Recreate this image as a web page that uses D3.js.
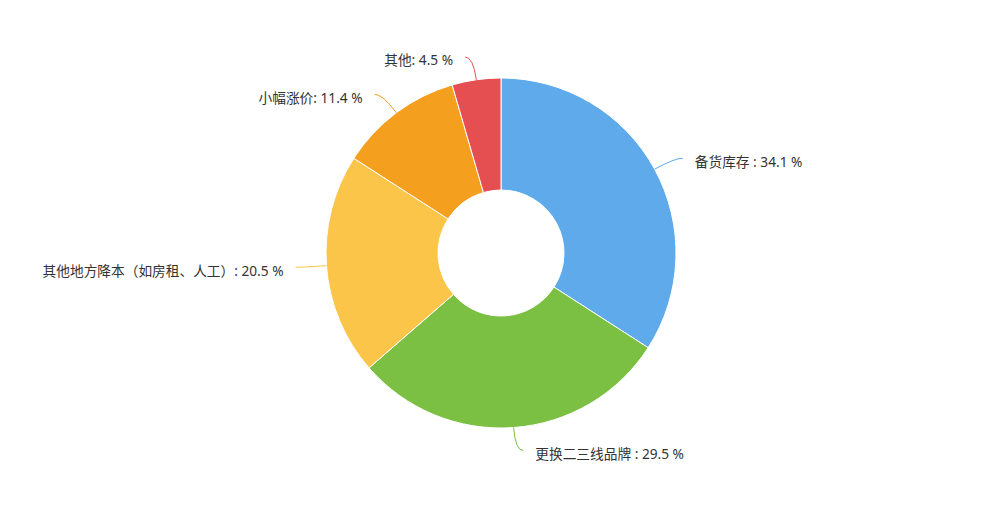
<!DOCTYPE html>
<html>
<head>
<meta charset="utf-8">
<script src="https://cdn.jsdelivr.net/npm/d3@7/dist/d3.min.js"></script>
<style>
    html, body { margin: 0; padding: 0; background: #fff; }
    .label { font-family: "Noto Sans", "Noto Sans CJK SC", sans-serif; font-size: 13.7px; fill: #333; }
</style>
</head>
<body>
<div class="container"></div>
<script>
(function () {

    //chart data
    var categories = ["备货库存", "更换二三线品牌", "其他地方降本（如房租、人工）", "小幅涨价", "其他"];
    var values = [34.1, 29.5, 20.5, 11.4, 4.5];
    var separators = [" : ", " : ", ": ", ": ", ": "];
    var colors = ["#5eaaea", "#7bc043", "#fbc54a", "#f59f1f", "#e64f51"];

    //frame
    var width = 995,
        height = 510,
        cx = 501,
        cy = 253,
        outerR = 175,
        innerR = 63;

    var svg = d3.select(".container")
        .append("svg")
        .attr("width", width)
        .attr("height", height);

    var g = svg.append("g")
        .attr("transform", "translate(" + cx + "," + cy + ")");

    var items = categories.map(function (c, i) {
        return { name: c, value: values[i], sep: separators[i], color: colors[i] };
    });

    var pie = d3.pie()
        .sort(null)
        .value(function (d) { return d.value; });

    var arc = d3.arc()
        .innerRadius(innerR)
        .outerRadius(outerR);

    var slices = pie(items);

    //draw slices
    g.selectAll(".slice")
        .data(slices)
        .enter()
        .append("path")
        .attr("class", "slice")
        .attr("d", arc)
        .style("fill", function (d) { return d.data.color; })
        .style("stroke", "#fff")
        .style("stroke-width", 1);

    //leader lines, radial segment then short horizontal one, smoothed
    var len1 = 23, len2 = 8, gap = 12;

    function linePoints(d) {
        var a = (d.startAngle + d.endAngle) / 2;
        var sx = Math.sin(a), sy = -Math.cos(a);
        var p0 = [outerR * sx, outerR * sy];
        var p1 = [(outerR + len1) * sx, (outerR + len1) * sy];
        var dir = sx >= 0 ? 1 : -1;
        var p2 = [p1[0] + dir * len2, p1[1]];
        return { p0: p0, p1: p1, p2: p2, dir: dir };
    }

    g.selectAll(".labelLine")
        .data(slices)
        .enter()
        .append("path")
        .attr("class", "labelLine")
        .attr("d", function (d) {
            var p = linePoints(d);
            return "M" + p.p0 + "Q" + p.p1 + " " + p.p2;
        })
        .style("fill", "none")
        .style("stroke", function (d) { return d.data.color; })
        .style("stroke-width", 1);

    g.selectAll(".label")
        .data(slices)
        .enter()
        .append("text")
        .attr("class", "label")
        .attr("x", function (d) {
            var p = linePoints(d);
            return p.p2[0] + p.dir * gap;
        })
        .attr("y", function (d) { return linePoints(d).p2[1] + 3; })
        .attr("dominant-baseline", "central")
        .attr("text-anchor", function (d) { return linePoints(d).dir > 0 ? "start" : "end"; })
        .text(function (d) { return d.data.name + d.data.sep + d.data.value + " %"; });

})();
</script>
</body>
</html>
